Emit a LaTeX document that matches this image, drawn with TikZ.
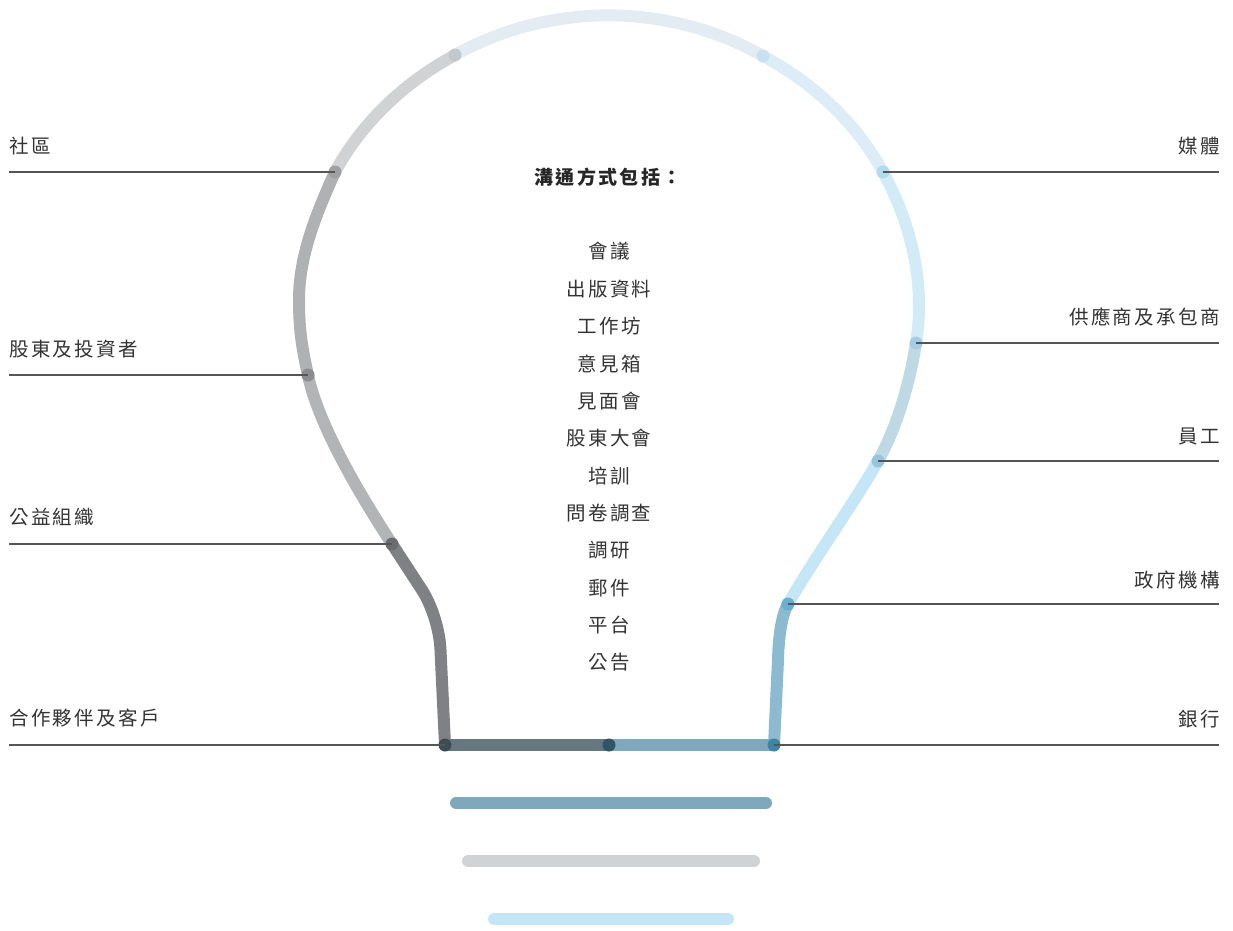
\documentclass[tikz,border=0pt]{standalone}
\usepackage{fontspec}
\newfontfamily\cjk{Noto Sans CJK TC}[LetterSpace=12]
\definecolor{txtc}{HTML}{333333}
\definecolor{leadc}{HTML}{555555}
\definecolor{sA}{HTML}{808184}
\definecolor{sB}{HTML}{B3B4B6}
\definecolor{sC}{HTML}{B0B1B3}
\definecolor{sD}{HTML}{D1D2D3}
\definecolor{sE}{HTML}{E3ECF2}
\definecolor{sF}{HTML}{DCEDF8}
\definecolor{sG}{HTML}{D3EAF7}
\definecolor{sH}{HTML}{BED8E4}
\definecolor{sI}{HTML}{C4E6F6}
\definecolor{sJ}{HTML}{8CBAD0}
\definecolor{sbL}{HTML}{66787F}
\definecolor{sbR}{HTML}{7FA8BC}
\definecolor{dAc}{HTML}{3D4D55}
\definecolor{dBc}{HTML}{6B6C6F}
\definecolor{dCc}{HTML}{8B8C8F}
\definecolor{dDc}{HTML}{9FA0A2}
\definecolor{dEc}{HTML}{C1C8CE}
\definecolor{dFc}{HTML}{C8E1EE}
\definecolor{dGc}{HTML}{B3DBEF}
\definecolor{dHc}{HTML}{A3CDE4}
\definecolor{dIc}{HTML}{95C6DE}
\definecolor{dJc}{HTML}{6AAED0}
\definecolor{dKc}{HTML}{3F84A2}
\definecolor{dMc}{HTML}{2F5566}
\definecolor{barA}{HTML}{7FA8BC}
\definecolor{barB}{HTML}{D1D2D3}
\definecolor{barC}{HTML}{C4E6F6}
\begin{document}
\begin{tikzpicture}[x=1pt,y=-1pt,
  seg/.style={line width=12pt},
  bulbdot/.style={circle,inner sep=0pt,minimum size=13pt},
  leader/.style={draw=leadc,line width=1.2pt},
  lbl/.style={inner sep=0pt,text=txtc,font=\cjk\fontsize{19.5}{21}\selectfont},
  item/.style={inner sep=0pt,text=txtc,font=\cjk\fontsize{19.5}{21}\selectfont},
  title/.style={inner sep=0pt,text=black!85,font=\cjk\bfseries\fontsize{19}{21}\selectfont},
  barline/.style={line width=12pt,line cap=round}]
\useasboundingbox (0,0) rectangle (1233,930);
% key points
\coordinate (pA) at (445,745);
\coordinate (pB) at (392,544);
\coordinate (pC) at (308,375);
\coordinate (pL) at (299,300);
\coordinate (pD) at (335,172);
\coordinate (pE) at (455,55);
\coordinate (pF) at (763,56);
\coordinate (pG) at (883,172);
\coordinate (pH) at (916,343);
\coordinate (pI) at (878,461);
\coordinate (pJ) at (788,604);
\coordinate (pK) at (774,745);
\coordinate (pM) at (609,745);
\coordinate (nL1) at (440.5,650);
\coordinate (nL2) at (422,590);
\coordinate (nR1) at (778,660);
% bulb segments
\draw[seg,sA] (pA) -- (nL1) .. controls (439.5,628) and (431,604) .. (nL2) -- (pB);
\draw[seg,sB] (pB) .. controls (359.2,493.7) and (318,424) .. (pC);
\draw[seg,sC] (pC) .. controls (302,348) and (299,330) .. (pL) .. controls (299,255) and (316.6,213) .. (pD);
\draw[seg,sD] (pD) .. controls (361.6,122.9) and (403.9,82.7) .. (pE);
\draw[seg,sE] (pE) .. controls (550,2) and (668,2) .. (pF);
\draw[seg,sF] (pF) .. controls (814,83.4) and (856.3,123) .. (pG);
\draw[seg,sG] (pG) .. controls (911.7,224.5) and (925.6,284.2) .. (pH);
\draw[seg,sH] (pH) .. controls (909.6,382.5) and (898,425) .. (pI);
\draw[seg,sI] (pI) .. controls (850.5,508.6) and (815.5,556.4) .. (pJ);
\draw[seg,sJ] (pJ) .. controls (781,616) and (778.5,640) .. (nR1) -- (pK);
\draw[seg,sbL] (pA) -- (pM);
\draw[seg,sbR] (pM) -- (pK);
% dots
\node[bulbdot,fill=dAc] (dA) at (pA) {};
\node[bulbdot,fill=dBc] (dB) at (pB) {};
\node[bulbdot,fill=dCc] (dC) at (pC) {};
\node[bulbdot,fill=dDc] (dD) at (pD) {};
\node[bulbdot,fill=dEc] (dE) at (pE) {};
\node[bulbdot,fill=dFc] (dF) at (pF) {};
\node[bulbdot,fill=dGc] (dG) at (pG) {};
\node[bulbdot,fill=dHc] (dH) at (pH) {};
\node[bulbdot,fill=dIc] (dI) at (pI) {};
\node[bulbdot,fill=dJc] (dJ) at (pJ) {};
\node[bulbdot,fill=dKc] (dK) at (pK) {};
\node[bulbdot,fill=dMc] (dM) at (pM) {};
% base bars
\coordinate (b1l) at (456,803); \coordinate (b1r) at (766,803);
\coordinate (b2l) at (468,861); \coordinate (b2r) at (754,861);
\coordinate (b3l) at (494,919); \coordinate (b3r) at (728,919);
\draw[barline,barA] (b1l) -- (b1r);
\draw[barline,barB] (b2l) -- (b2r);
\draw[barline,barC] (b3l) -- (b3r);
% leader ends
\coordinate (eD) at (9,172);
\coordinate (eC) at (9,375);
\coordinate (eB) at (9,544);
\coordinate (eA) at (9,745);
\coordinate (eG) at (1219,172);
\coordinate (eH) at (1219,343);
\coordinate (eI) at (1219,461);
\coordinate (eJ) at (1219,604);
\coordinate (eK) at (1219,745);
\draw[leader] (eD) -- (dD.center);
\draw[leader] (eC) -- (dC.center);
\draw[leader] (eB) -- (dB.center);
\draw[leader] (eA) -- (dA.center);
\draw[leader] (dG.center) -- (eG);
\draw[leader] (dH.center) -- (eH);
\draw[leader] (dI.center) -- (eI);
\draw[leader] (dJ.center) -- (eJ);
\draw[leader] (dK.center) -- (eK);
% labels
\node[lbl,anchor=west] (tD) at (9,146) {社區};
\node[lbl,anchor=west] (tC) at (9,349) {股東及投資者};
\node[lbl,anchor=west] (tB) at (9,517) {公益組織};
\node[lbl,anchor=west] (tA) at (9,718) {合作夥伴及客戶};
\node[lbl,anchor=east] (tG) at (1220,146) {媒體};
\node[lbl,anchor=east] (tH) at (1220,317) {供應商及承包商};
\node[lbl,anchor=east] (tI) at (1220,436) {員工};
\node[lbl,anchor=east] (tJ) at (1220,580) {政府機構};
\node[lbl,anchor=east] (tK) at (1220,719) {銀行};
% centre list
\node[title] (ttl) at (608,177) {溝通方式包括：};
\node[item] (i1) at (609,251) {會議};
\node[item] (i2) at (609,289) {出版資料};
\node[item] (i3) at (609,326) {工作坊};
\node[item] (i4) at (609,364) {意見箱};
\node[item] (i5) at (609,401) {見面會};
\node[item] (i6) at (609,438) {股東大會};
\node[item] (i7) at (609,476) {培訓};
\node[item] (i8) at (609,513) {問卷調查};
\node[item] (i9) at (609,550) {調研};
\node[item] (i10) at (609,588) {郵件};
\node[item] (i11) at (609,625) {平台};
\node[item] (i12) at (609,662) {公告};
\end{tikzpicture}
\end{document}
